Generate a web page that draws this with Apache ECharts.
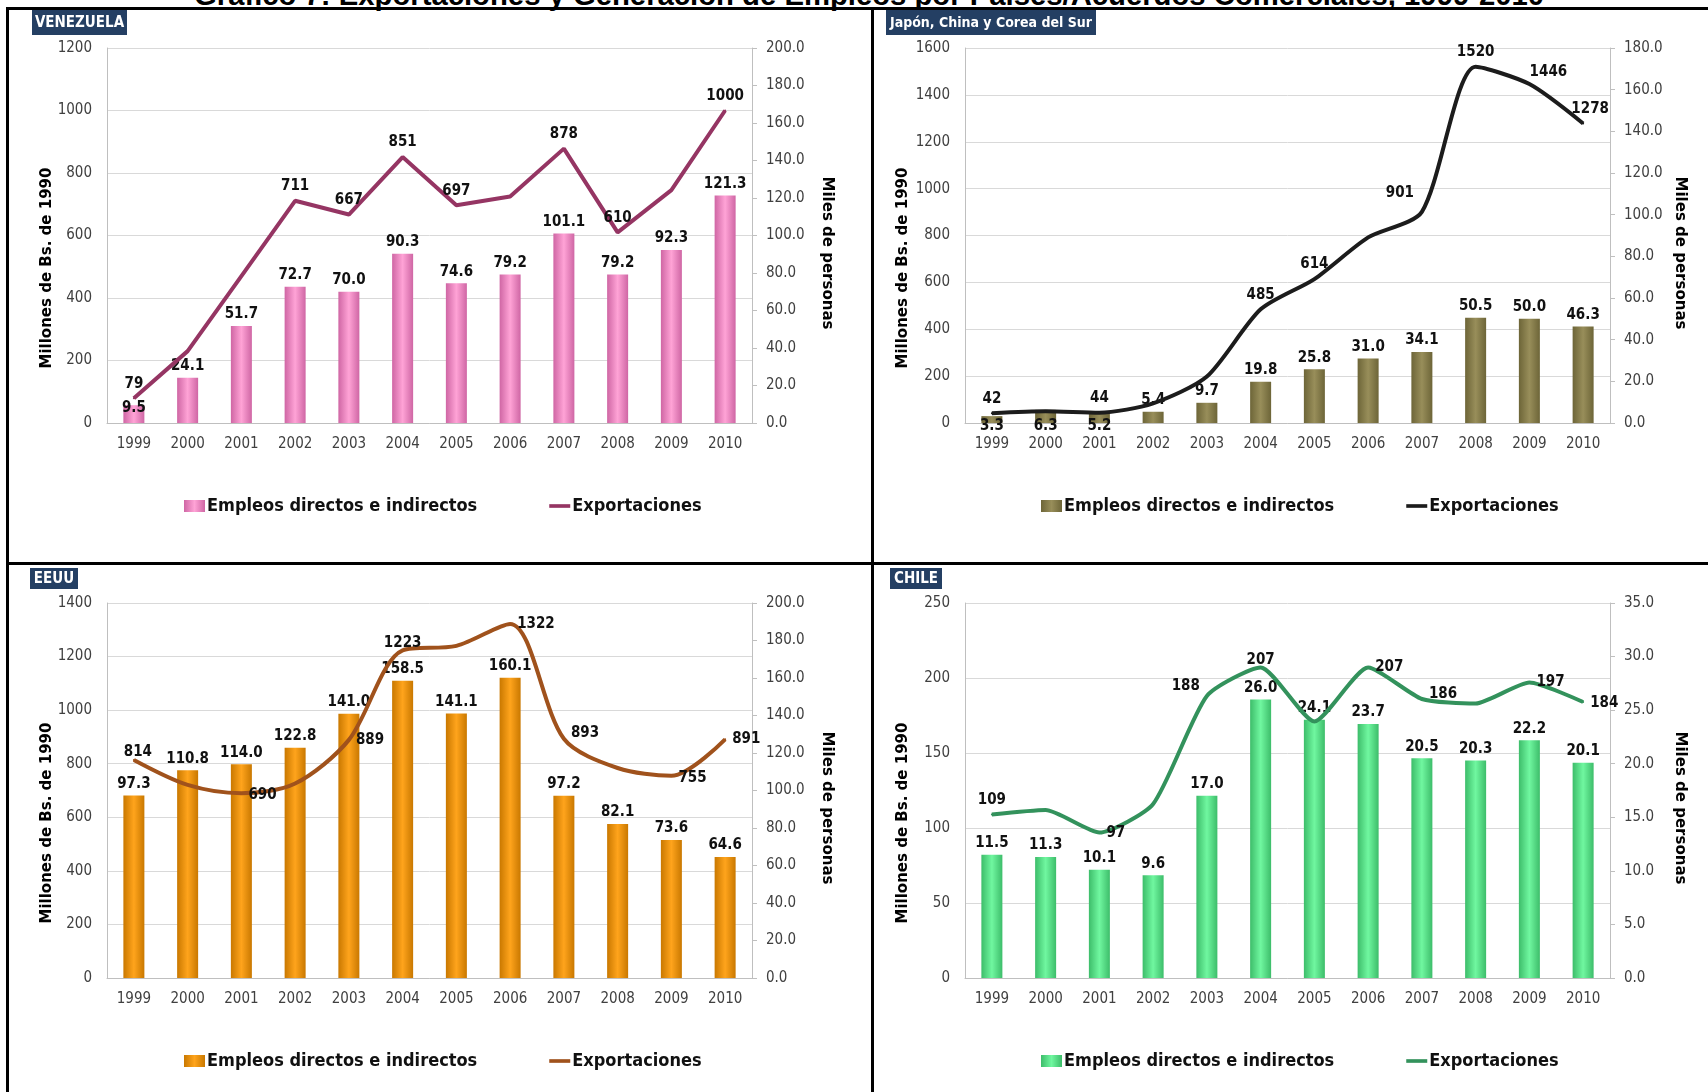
<!DOCTYPE html>
<html>
<head>
<meta charset="utf-8">
<script src="https://cdn.jsdelivr.net/npm/echarts@6/dist/echarts.min.js"></script>
<style>
  body { margin: 0; width: 1708px; height: 1092px; overflow: hidden; background: #fff; position: relative; }
  .rule { position: absolute; background: #000; z-index: 5; }
  .panel { position: absolute; }
  #title { position: absolute; left: 194px; top: -18px; white-space: nowrap; line-height: 1;
           font-family: 'Liberation Sans', Arial, sans-serif; font-weight: bold; color: #000; font-size: 26px; }
</style>
</head>
<body>
<div id="title">Gráfico 7: Exportaciones y Generación de Empleos por Países/Acuerdos Comerciales, 1999-2010</div>
<div class="rule" style="left:6px;top:7px;width:1702px;height:3px"></div>
<div class="rule" style="left:6px;top:7px;width:3px;height:1085px"></div>
<div class="rule" style="left:871px;top:7px;width:3px;height:1085px"></div>
<div class="rule" style="left:6px;top:562px;width:1702px;height:3px"></div>

<div id="ven" class="panel" style="left:0;top:0;width:870px;height:555px"></div>
<div id="jap" class="panel" style="left:870px;top:0;width:838px;height:555px"></div>
<div id="eeuu" class="panel" style="left:0;top:555px;width:870px;height:537px"></div>
<div id="chi" class="panel" style="left:870px;top:555px;width:838px;height:537px"></div>

<script>
// datos
var years = ["1999", "2000", "2001", "2002", "2003", "2004", "2005", "2006", "2007", "2008", "2009", "2010"];

var venEmpleos = [9.5, 24.1, 51.7, 72.7, 70.0, 90.3, 74.6, 79.2, 101.1, 79.2, 92.3, 121.3];
var venExport = [79, 230, 470, 711, 667, 851, 697, 725, 878, 610, 745, 1000];

var japEmpleos = [3.3, 6.3, 5.2, 5.4, 9.7, 19.8, 25.8, 31.0, 34.1, 50.5, 50.0, 46.3];
var japExport = [42, 50, 44, 84, 198, 485, 614, 792, 901, 1520, 1446, 1278];

var eeuuEmpleos = [97.3, 110.8, 114.0, 122.8, 141.0, 158.5, 141.1, 160.1, 97.2, 82.1, 73.6, 64.6];
var eeuuExport = [814, 721, 690, 726, 889, 1223, 1240, 1322, 893, 784, 755, 891];

var chiEmpleos = [11.5, 11.3, 10.1, 9.6, 17.0, 26.0, 24.1, 23.7, 20.5, 20.3, 22.2, 20.1];
var chiExport = [109, 112, 97, 116, 188, 207, 171, 207, 186, 183, 197, 184];

// ejes: [min, max, intervalo]
var venLeftAxis = [0, 1200, 200], venRightAxis = [0, 200, 20];
var japLeftAxis = [0, 1600, 200], japRightAxis = [0, 180, 20];
var eeuuLeftAxis = [0, 1400, 200], eeuuRightAxis = [0, 200, 20];
var chiLeftAxis = [0, 250, 50], chiRightAxis = [0, 35, 5];

var NARROW = "'Liberation Sans Narrow', 'Arial Narrow', 'DejaVu Sans Condensed', sans-serif";

// ajusta el título al ancho del original
(function () {
  var t = document.getElementById("title");
  var c = document.createElement("canvas").getContext("2d");
  c.font = "bold 100px 'Liberation Sans', Arial, sans-serif";
  var w = c.measureText(t.textContent).width;
  var fs = 100 * 1351 / w;
  t.style.fontSize = fs + "px";
  t.style.top = (4.5 - 0.8465 * fs) + "px";
})();

function grad(edge, mid) {
  return new echarts.graphic.LinearGradient(0, 0, 1, 0, [
    { offset: 0, color: edge },
    { offset: 0.5, color: mid },
    { offset: 1, color: edge },
  ]);
}

function withLabels(values, tweaks, hidden) {
  return values.map(function (v, i) {
    var it = { value: v };
    if (hidden && hidden.indexOf(i) >= 0) it.label = { show: false };
    else if (tweaks && tweaks[i]) it.label = tweaks[i];
    return it;
  });
}

function drawPanel(id, cfg) {
  var chart = echarts.init(document.getElementById(id));
  var gl = cfg.right ? 95 : 107;
  var labelFont = { fontFamily: NARROW, fontWeight: "bold", fontSize: 15, color: "#111" };
  var tickFont = { fontFamily: NARROW, fontSize: 15, color: "#404040" };
  chart.setOption({
    animation: false,
    grid: { left: gl, top: 48, width: 645, height: 375 },
    legend: {
      left: cfg.right ? 166 : 179,
      top: 492,
      itemWidth: 21,
      itemHeight: 12,
      itemGap: 72,
      symbolKeepAspect: true,
      textStyle: { fontFamily: NARROW, fontWeight: "bold", fontSize: 18, color: "#111", padding: [0, 0, 0, -3] },
      data: [
        { name: "Empleos directos e indirectos", icon: "rect" },
        { name: "Exportaciones", icon: "path://M0,0 L23,0 L23,4 L0,4 Z" },
      ],
    },
    xAxis: {
      type: "category",
      data: years,
      axisLine: { lineStyle: { color: "#bfbfbf" } },
      axisTick: { show: false },
      axisLabel: Object.assign({ margin: 14 }, tickFont),
    },
    yAxis: [
      {
        type: "value",
        min: cfg.left[0], max: cfg.left[1], interval: cfg.left[2],
        axisLine: { show: true, lineStyle: { color: "#bfbfbf" } },
        axisTick: { show: false },
        splitLine: { lineStyle: { color: "#d9d9d9" } },
        axisLabel: Object.assign({ margin: 15, formatter: function (v) { return String(v); } }, tickFont),
      },
      {
        type: "value",
        min: cfg.rightAxis[0], max: cfg.rightAxis[1], interval: cfg.rightAxis[2],
        axisLine: { show: true, lineStyle: { color: "#bfbfbf" } },
        axisTick: { show: true, length: 5, lineStyle: { color: "#bfbfbf" } },
        splitLine: { show: false },
        axisLabel: Object.assign({ margin: 14, formatter: function (v) { return v.toFixed(1); } }, tickFont),
      },
    ],
    graphic: [
      {
        type: "rect", left: cfg.box[0], top: cfg.box[1],
        shape: { width: cfg.box[2], height: cfg.box[3] },
        style: { fill: "#243f63" },
      },
      {
        type: "text", x: cfg.box[0] + cfg.box[2] / 2, y: cfg.box[1] + cfg.box[3] / 2 + 1,
        style: { text: cfg.name, fill: "#fff", font: "bold " + cfg.boxFont + "px " + NARROW,
                 textAlign: "center", textVerticalAlign: "middle" },
      },
      {
        type: "text", x: cfg.right ? 33 : 47, y: 268, rotation: Math.PI / 2,
        style: { text: "Millones de Bs. de 1990", fill: "#000", font: "bold 15px 'DejaVu Sans', sans-serif",
                 textAlign: "center", textVerticalAlign: "middle" },
      },
      {
        type: "text", x: cfg.right ? 810 : 827, y: 253, rotation: -Math.PI / 2,
        style: { text: "Miles de personas", fill: "#000", font: "bold 15px 'DejaVu Sans', sans-serif",
                 textAlign: "center", textVerticalAlign: "middle" },
      },
    ],
    series: [
      {
        name: "Empleos directos e indirectos",
        type: "bar",
        yAxisIndex: 1,
        barWidth: 21,
        data: withLabels(cfg.bars, cfg.barTweaks),
        itemStyle: { color: grad(cfg.barEdge, cfg.barMid) },
        label: Object.assign({ show: true, position: "top", distance: 4,
                               formatter: function (p) { return p.value.toFixed(1); } }, labelFont),
        z: 2,
      },
      {
        name: "Exportaciones",
        type: "line",
        yAxisIndex: 0,
        data: withLabels(cfg.line, cfg.lineTweaks, cfg.lineHidden),
        symbol: "circle",
        symbolSize: 2,
        showSymbol: true,
        smooth: cfg.smooth || false,
        lineStyle: { width: 4, color: cfg.lineColor },
        itemStyle: { color: cfg.lineColor },
        label: Object.assign({ show: true, position: "top", distance: 6 }, labelFont),
        z: 3,
      },
    ],
  });
  return chart;
}

drawPanel("ven", {
  name: "VENEZUELA", box: [32, 10, 95, 25], boxFont: 15,
  left: venLeftAxis, rightAxis: venRightAxis,
  bars: venEmpleos, line: venExport,
  barEdge: "#cf66a4", barMid: "#ffa3d6", lineColor: "#953563",
  barTweaks: { 0: { offset: [0, 14] } },
  lineHidden: [1, 2, 7, 10],
});

drawPanel("jap", {
  right: true,
  name: "Japón, China y Corea del Sur", box: [16, 10, 210, 25], boxFont: 14,
  left: japLeftAxis, rightAxis: japRightAxis,
  bars: japEmpleos, line: japExport,
  barEdge: "#6d6538", barMid: "#988e5a", lineColor: "#1c1c1c", smooth: 0.25,
  barTweaks: { 0: { offset: [0, 21] }, 1: { offset: [0, 28] }, 2: { offset: [0, 25] } },
  lineTweaks: { 8: { offset: [-22, -4] }, 10: { offset: [19, 3] }, 11: { offset: [7, 0] } },
  lineHidden: [1, 3, 4, 7],
});

drawPanel("eeuu", {
  name: "EEUU", box: [30, 13, 48, 21], boxFont: 15,
  left: eeuuLeftAxis, rightAxis: eeuuRightAxis,
  bars: eeuuEmpleos, line: eeuuExport,
  barEdge: "#c97800", barMid: "#ffa41c", lineColor: "#a0521c", smooth: 0.3,
  lineTweaks: {
    0: { offset: [4, 7] }, 2: { position: "right", offset: [0, 2] }, 4: { position: "right" },
    5: { offset: [0, 7] }, 7: { position: "right" }, 8: { position: "right", offset: [0, -6] },
    10: { position: "right", offset: [0, 2] }, 11: { position: "right" },
  },
  lineHidden: [1, 3, 6, 9],
});

drawPanel("chi", {
  right: true,
  name: "CHILE", box: [20, 13, 52, 21], boxFont: 15,
  left: chiLeftAxis, rightAxis: chiRightAxis,
  bars: chiEmpleos, line: chiExport,
  barEdge: "#3dbd6a", barMid: "#70f7a0", lineColor: "#33925c", smooth: 0.2,
  lineTweaks: {
    2: { position: "right", offset: [0, 1] }, 4: { position: "left", offset: [0, -10] },
    5: { offset: [0, 7] }, 7: { position: "right" }, 8: { position: "right", offset: [0, -5] },
    10: { position: "right" }, 11: { position: "right", offset: [0, 1] },
  },
  lineHidden: [1, 3, 6, 9],
});
</script>
</body>
</html>
